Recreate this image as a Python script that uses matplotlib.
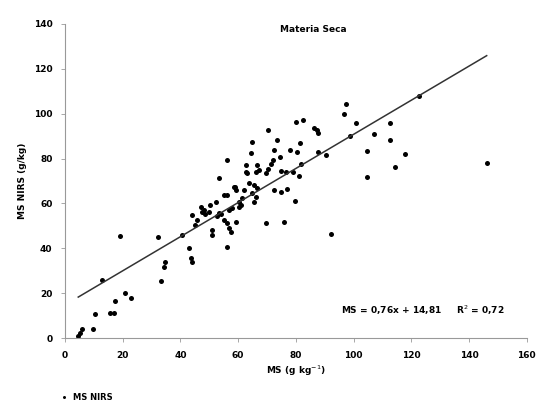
import numpy as np
import matplotlib.pyplot as plt

# MS reference (g/kg) vs MS predicted by NIRS (g/kg)
ms_ref = [4.6, 5.2, 5.8, 9.8, 10.4, 15.7, 17.0, 17.4, 19.1, 20.9, 23.0, 13.0,
          32.1, 33.3, 34.2, 34.8, 40.6, 42.9, 43.5, 44.0, 45.8, 45.2, 44.0, 47.0,
          48.1, 47.5, 49.8, 50.4, 52.2, 53.3, 52.8, 55.0, 56.2, 56.8, 59.1, 51.0,
          50.8, 57.4, 56.2, 53.3, 56.0, 55.0, 56.2, 58.0, 56.8, 58.5, 59.1, 60.3,
          60.3, 61.4, 62.0, 63.8, 65.5, 66.7, 66.1, 65.5, 62.8, 66.7, 63.2, 66.1,
          69.6, 64.3, 64.7, 69.6, 75.9, 92.2, 64.9, 72.5, 74.8, 76.9, 79.7, 74.8,
          76.5, 78.9, 81.1, 71.9, 71.3, 70.4, 81.7, 74.5, 72.5, 78.0, 80.3, 87.5,
          90.4, 73.4, 81.5, 70.4, 80.0, 82.3, 86.4, 87.3, 87.8, 97.4, 96.8, 100.9,
          98.9, 122.5, 112.5, 106.9, 112.5, 104.7, 117.7, 114.4, 104.7, 146.1,
          48.5, 54.0, 60.9, 58.8, 67.2, 62.6]
ms_nirs = [0.9, 2.1, 3.9, 4.1, 10.7, 11.0, 11.0, 16.6, 45.5, 20.2, 18.1, 25.9,
           45.2, 25.6, 31.8, 34.0, 45.9, 40.0, 35.5, 34.0, 52.6, 50.4, 54.8, 58.5,
           57.1, 56.4, 56.4, 59.3, 60.8, 55.6, 54.4, 52.6, 51.1, 48.9, 51.6, 48.1,
           45.9, 47.5, 40.7, 71.2, 79.2, 63.8, 63.8, 57.8, 57.1, 67.5, 66.0, 60.8,
           58.5, 62.3, 66.0, 69.0, 68.2, 66.7, 63.1, 60.8, 77.0, 77.0, 73.4, 74.2,
           73.4, 82.6, 87.5, 51.1, 51.9, 46.2, 64.5, 66.0, 65.3, 66.3, 61.2, 74.6,
           74.2, 74.2, 72.2, 79.4, 77.6, 75.2, 77.6, 80.9, 84.0, 83.8, 83.1, 83.1,
           81.6, 88.5, 86.8, 92.9, 96.5, 97.0, 93.5, 92.8, 91.3, 104.3, 99.9, 95.7,
           90.0, 107.9, 95.7, 90.9, 88.5, 83.6, 82.0, 76.4, 72.0, 77.9,
           55.5, 55.5, 59.3, 67.5, 74.9, 74.2]

slope, intercept = 0.76, 14.81
x_ticks = [0, 20, 40, 60, 80, 100, 120, 140, 160]
y_ticks = [0, 20, 40, 60, 80, 100, 120, 140]

plt.rcParams['font.family'] = 'DejaVu Sans'
fig = plt.figure(figsize=(5.37, 4.05), dpi=100)
ax = fig.add_axes([0.121, 0.165, 0.860, 0.776])

ax.plot(ms_ref, ms_nirs, 'o', color='black', markersize=3.6, markeredgewidth=0,
        label='MS NIRS')
x_fit = np.array([min(ms_ref), max(ms_ref)])
ax.plot(x_fit, slope * x_fit + intercept, '-', color='#333333', linewidth=1.1)

ax.set_xlim(0, 160)
ax.set_ylim(0, 140)
ax.set_xticks(x_ticks)
ax.set_yticks(y_ticks)
ax.tick_params(labelsize=6.5, length=3, width=0.6, color='#999999', pad=6)
for lab in ax.get_xticklabels() + ax.get_yticklabels():
    lab.set_fontweight('bold')
for s in ['top', 'right']:
    ax.spines[s].set_visible(False)
for s in ['left', 'bottom']:
    ax.spines[s].set_color('#999999')
    ax.spines[s].set_linewidth(0.8)

ax.text(124, 12.5, 'MS = 0,76x + 14,81     R$^2$ = 0,72', fontsize=6.5,
        fontweight='bold', ha='center', va='center')

fig.text(0.583, 0.927, 'Materia Seca', fontsize=6.5, fontweight='bold',
         ha='center', va='center')
ax.set_xlabel('MS (g kg$^{-1}$)', fontsize=6.5, fontweight='bold', labelpad=3)
ax.set_ylabel('MS NIRS (g/kg)', fontsize=6.5, fontweight='bold', labelpad=5)

fig.legend(loc='lower left', bbox_to_anchor=(0.09, -0.01), frameon=False,
           handletextpad=0.1, markerscale=0.6,
           prop={'weight': 'bold', 'size': 6})

fig.savefig('out.png', dpi=100)
